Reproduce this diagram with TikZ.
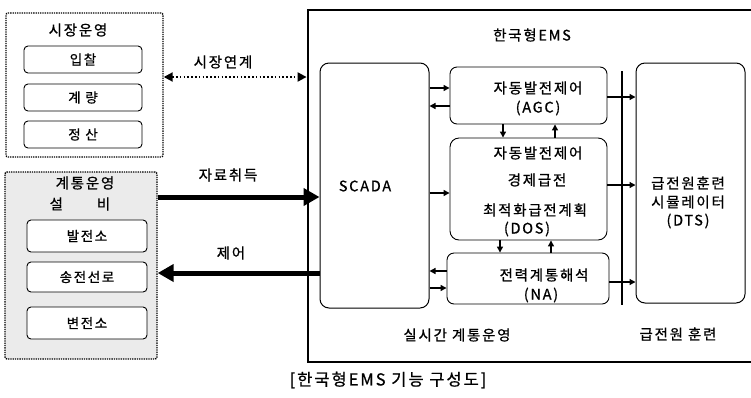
\documentclass[tikz,border=0pt]{standalone}
\usepackage{fontspec}
\setmainfont{Noto Sans CJK KR}[LetterSpace=12, FakeBold=0.8]
\usetikzlibrary{arrows.meta}
\tikzset{
  dotbox/.style={draw, line width=1.4pt, dash pattern=on 1.3pt off 1pt, rounded corners=2pt},
  ibox/.style={draw, line width=0.9pt, rounded corners=4pt, fill=white, inner sep=0pt},
  bigbox/.style={draw, line width=1pt, rounded corners=9pt, inner sep=0pt},
  lbl/.style={inner sep=0pt, font=\fontsize{14.5}{17}\selectfont},
  slbl/.style={inner sep=0pt, font=\fontsize{13.5}{16}\selectfont},
  arr/.style={line width=1.3pt, -{Triangle[length=6pt,width=6pt]}},
  thick arr/.style={line width=5pt, -{Triangle[length=16pt,width=17pt]}},
}
\begin{document}
\begin{tikzpicture}[x=1pt,y=-1pt]
\useasboundingbox (0,0) rectangle (751,397);
% market box
\node[dotbox, minimum width=157pt, minimum height=144pt] (mkt) at (84.5,85) {};
\node[lbl] (mkttitle) at (78,30) {시장운영};
\node[ibox, minimum width=118pt, minimum height=27pt, slbl] (bid) at (83,59.5) {입찰};
\node[ibox, minimum width=118pt, minimum height=27pt, slbl] (meter) at (83,97.5) {계 량};
\node[ibox, minimum width=118pt, minimum height=27pt, slbl] (settle) at (83,134.5) {정 산};
% system facility box
\node[dotbox, fill=black!8, minimum width=152pt, minimum height=187pt] (sys) at (81,265.5) {};
\node[lbl] (systitle) at (85,183) {계통운영};
\node[lbl] (systitle2) at (80,204) {설\hspace{34pt}비};
\node[ibox, minimum width=120pt, minimum height=32pt, slbl] (gen) at (87,236) {발전소};
\node[ibox, minimum width=120pt, minimum height=30pt, slbl] (line) at (87,277) {송전선로};
\node[ibox, minimum width=120pt, minimum height=32pt, slbl] (sub) at (87,323) {변전소};
% main EMS box
\node[draw, line width=2.8pt, minimum width=454pt, minimum height=352pt, inner sep=0pt] (ems) at (535,186) {};
\node[lbl] (emstitle) at (532,35) {한국형EMS};
% SCADA
\node[bigbox, minimum width=109pt, minimum height=245pt] (scada) at (374.5,185.5) {};
\node[lbl] (scadatxt) at (365,186) {SCADA};
% AGC
\node[ibox, rounded corners=7pt, minimum width=157pt, minimum height=57pt] (agc) at (528.5,95.5) {};
\node[lbl] (agct1) at (538,88) {자동발전제어};
\node[lbl] (agct2) at (538,108) {(AGC)};
% DOS
\node[ibox, rounded corners=9pt, minimum width=157pt, minimum height=102pt] (dos) at (528.5,189) {};
\node[lbl] (dost1) at (538,153) {자동발전제어};
\node[lbl] (dost2) at (537,180) {경제급전};
\node[lbl] (dost3) at (535,210) {최적화급전계획};
\node[lbl] (dost4) at (527,229) {(DOS)};
% NA
\node[ibox, rounded corners=7pt, minimum width=162pt, minimum height=51pt] (na) at (528,278.5) {};
\node[lbl] (nat1) at (544,275) {전력계통해석};
\node[lbl] (nat2) at (541,295) {(NA)};
% vertical bus line
\coordinate (bustop) at (622,71);
\coordinate (busbot) at (622,305);
\draw[line width=1.5pt] (bustop) -- (busbot);
% DTS
\node[bigbox, minimum width=109pt, minimum height=240pt] (dts) at (690.5,183) {};
\node[lbl] (dtst1) at (688,183) {급전원훈련};
\node[lbl] (dtst2) at (688,202) {시뮬레이터};
\node[lbl] (dtst3) at (688,221) {(DTS)};
% bottom labels
\node[lbl] (rt) at (457,335) {실시간 계통운영};
\node[lbl] (tr) at (678,334) {급전원 훈련};
% caption
\node[inner sep=0pt, font=\fontsize{16.5}{19}\selectfont] (cap) at (388,380) {[한국형EMS 기능 구성도]};
% left connections
\draw[line width=2pt, dash pattern=on 1.6pt off 2.2pt,
  {Triangle[length=9pt,width=9pt]}-{Triangle[length=9pt,width=9pt]}]
  (mkt.east |- 0,77) -- (ems.west |- 0,77);
\node[lbl] (mlink) at (223,62) {시장연계};
\draw[thick arr] (sys.east |- 0,197) -- (scada.west |- 0,197);
\node[lbl] (acq) at (228,175) {자료취득};
\draw[thick arr] (scada.west |- 0,273) -- (sys.east |- 0,273);
\node[lbl] (ctrl) at (231,253) {제어};
% SCADA <-> modules
\draw[arr] (scada.east |- 0,88) -- (agc.west |- 0,88);
\draw[arr] (agc.west |- 0,106) -- (scada.east |- 0,106);
\draw[arr] (scada.east |- 0,193) -- (dos.west |- 0,193);
\draw[arr] (na.west |- 0,271) -- (scada.east |- 0,271);
\draw[arr] (scada.east |- 0,288) -- (na.west |- 0,288);
% module <-> module
\draw[arr] (agc.south -| 503,0) -- (dos.north -| 503,0);
\draw[arr] (dos.north -| 555,0) -- (agc.south -| 555,0);
\draw[arr] (dos.south -| 500,0) -- (na.north -| 500,0);
\draw[arr] (na.north -| 551,0) -- (dos.south -| 551,0);
% modules -> DTS
\draw[arr] (agc.east |- 0,97) -- (dts.west |- 0,97);
\draw[arr] (dos.east |- 0,185) -- (dts.west |- 0,185);
\draw[arr] (na.east |- 0,282) -- (dts.west |- 0,282);
\end{tikzpicture}
\end{document}
